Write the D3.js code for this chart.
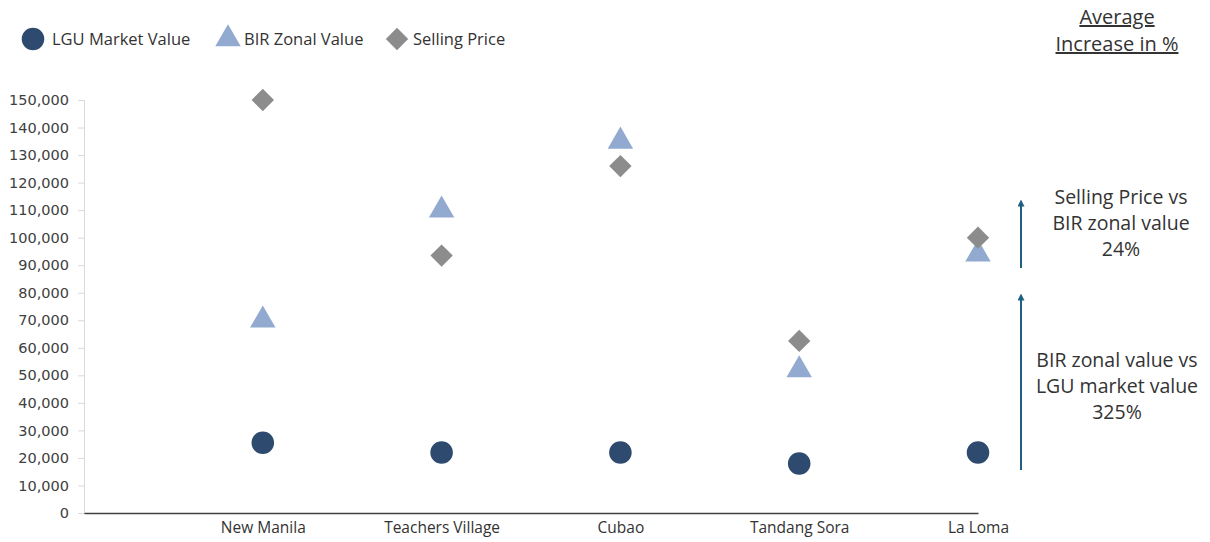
<!DOCTYPE html>
<html>
<head>
<meta charset="utf-8">
<script src="https://cdn.jsdelivr.net/npm/d3@7"></script>
<style>
  body { margin: 0; background: #fff; }
  svg { display: block; }
</style>
</head>
<body>
<svg></svg>
<script>
// data
let categories = ['New Manila', 'Teachers Village', 'Cubao', 'Tandang Sora', 'La Loma'];
let lguValues = [25500, 22000, 22000, 18000, 22000];
let birValues = [70000, 110000, 135000, 52000, 94000];
let sellingValues = [150000, 93500, 126000, 62500, 100000];
let yTicks = [0, 10000, 20000, 30000, 40000, 50000, 60000, 70000, 80000, 90000, 100000,
  110000, 120000, 130000, 140000, 150000];

let series = [
  { name: 'LGU Market Value', values: lguValues, shape: d3.symbolCircle, size: 400, rotate: 0, color: '#2e4a6e' },
  { name: 'BIR Zonal Value', values: birValues, shape: d3.symbolTriangle, size: 280, rotate: 0, color: '#93aad0' },
  { name: 'Selling Price', values: sellingValues, shape: d3.symbolSquare, size: 250, rotate: 45, color: '#8c8c8c' }
];

// configuration of svg/plot area
let config = { svg: {}, plot: {} };
config.svg.width = 1210;
config.svg.height = 542;
config.plot.left = 84;
config.plot.right = 978;
config.plot.top = 100;
config.plot.bottom = 513;

let svg = d3.select('body').select('svg');
svg.attr('width', config.svg.width);
svg.attr('height', config.svg.height);

// category positions: 0 is the axis origin, categories sit at 1..5
let x = d3.scaleLinear()
  .domain([0, categories.length])
  .range([config.plot.left, config.plot.right]);

let y = d3.scaleLinear()
  .domain([0, 150000])
  .range([config.plot.bottom, config.plot.top]);

// y axis
let yAxis = svg.append('g')
  .attr('transform', 'translate(' + config.plot.left + ',0)')
  .call(d3.axisLeft(y).tickValues(yTicks).tickFormat(d3.format(',')).tickSize(6).tickPadding(9));
yAxis.select('.domain').attr('stroke', '#d9d9d9');
yAxis.selectAll('.tick line').attr('stroke', '#d9d9d9');
yAxis.selectAll('.tick text')
  .attr('fill', '#404040')
  .style('font-family', 'DejaVu Sans, sans-serif')
  .style('font-size', '14.5px');

// x axis
let xAxis = svg.append('g')
  .attr('transform', 'translate(0,' + config.plot.bottom + ')')
  .call(d3.axisBottom(x)
    .tickValues(d3.range(1, categories.length + 1))
    .tickFormat(d => categories[d - 1])
    .tickSize(0).tickPadding(9));
xAxis.select('.domain').attr('stroke', '#404040').attr('stroke-width', 1.6);
xAxis.selectAll('.tick text')
  .attr('fill', '#333')
  .style('font-family', 'Open Sans, sans-serif')
  .style('font-size', '15.5px');

// markers
series.forEach(s => {
  let sym = d3.symbol().type(s.shape).size(s.size);
  svg.append('g').selectAll('path')
    .data(s.values)
    .join('path')
    .attr('d', sym)
    .attr('transform', (d, i) => 'translate(' + x(i + 1) + ',' + y(d) + ') rotate(' + s.rotate + ')')
    .attr('fill', s.color);
});

// legend
let legendX = [33, 228, 397];
let legend = svg.append('g');
series.forEach((s, i) => {
  let g = legend.append('g').attr('transform', 'translate(' + legendX[i] + ',39)');
  g.append('path')
    .attr('d', d3.symbol().type(s.shape).size(s.size))
    .attr('transform', 'rotate(' + s.rotate + ')')
    .attr('fill', s.color);
  g.append('text')
    .attr('x', i === 0 ? 19 : 16)
    .attr('y', 6)
    .attr('fill', '#333')
    .style('font-family', 'Open Sans, sans-serif')
    .style('font-size', '16.5px')
    .text(s.name);
});

// title on the right
let title = svg.append('g')
  .style('font-family', 'Open Sans, sans-serif')
  .style('font-size', '20px')
  .attr('fill', '#333')
  .attr('text-anchor', 'middle');
title.append('text').attr('x', 1117).attr('y', 24)
  .style('text-decoration', 'underline').text('Average');
title.append('text').attr('x', 1117).attr('y', 51)
  .style('text-decoration', 'underline').text('Increase in %');

// arrows
svg.append('defs').append('marker')
  .attr('id', 'head')
  .attr('viewBox', '0 0 10 10')
  .attr('refX', 5).attr('refY', 5)
  .attr('markerWidth', 3.5).attr('markerHeight', 3.5)
  .attr('orient', 'auto')
  .append('path')
  .attr('d', 'M0,0 L10,5 L0,10 Z')
  .attr('fill', '#1f5f82');

let arrows = [[268, 203], [470, 297]];
arrows.forEach(a => {
  svg.append('line')
    .attr('x1', 1021).attr('x2', 1021)
    .attr('y1', a[0]).attr('y2', a[1])
    .attr('stroke', '#1f5f82')
    .attr('stroke-width', 2)
    .attr('marker-end', 'url(#head)');
});

// annotations
let notes = [
  { x: 1121, y: 204, lines: ['Selling Price vs', 'BIR zonal value', '24%'] },
  { x: 1117, y: 367, lines: ['BIR zonal value vs', 'LGU market value', '325%'] }
];
notes.forEach(n => {
  let t = svg.append('text')
    .attr('text-anchor', 'middle')
    .attr('fill', '#333')
    .style('font-family', 'Open Sans, sans-serif')
    .style('font-size', '19.5px');
  n.lines.forEach((l, i) => {
    t.append('tspan').attr('x', n.x).attr('y', n.y + i * 26).text(l);
  });
});
</script>
</body>
</html>
